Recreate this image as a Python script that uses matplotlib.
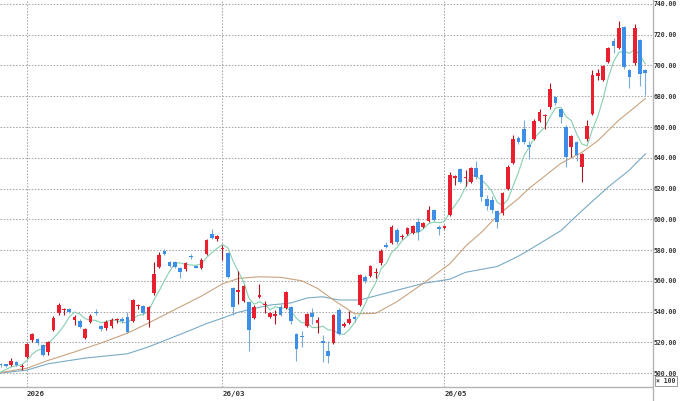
import numpy as np
import pandas as pd
import matplotlib
matplotlib.use("Agg")
import matplotlib.pyplot as plt
from matplotlib.lines import Line2D

# ---- data (prices x100) ----
opens = [505.6, 505.3, 505.2, 507.0, 503.8, 510.6, 521.5, 522.1, 518.2, 513.9,
         528.0, 538.8, 541.0, 541.6, 534.5, 534.0, 522.8, 533.4, 539.9, 530.6,
         529.1, 530.6, 534.2, 535.1, 536.2, 533.8, 543.3, 543.6, 534.5, 551.8,
         568.7, 579.4, 572.4, 572.4, 568.5, 567.4, 575.8, 569.8, 568.1, 577.2,
         590.2, 586.9, 580.5, 577.9, 555.6, 553.0, 546.8, 546.4, 535.6, 549.6,
         544.3, 536.6, 537.1, 543.1, 542.1, 543.1, 525.2, 524.1, 530.8, 538.8,
         532.7, 521.0, 514.3, 519.7, 541.0, 530.8, 532.7, 536.2, 544.2, 562.6,
         563.1, 564.8, 571.4, 583.3, 584.8, 593.0, 588.3, 590.4, 591.3, 598.4,
         594.8, 599.1, 606.0, 595.2, 594.1, 602.8, 627.0, 632.5, 626.6, 624.4,
         633.1, 628.8, 613.2, 612.5, 605.6, 603.9, 619.5, 636.8, 653.0, 658.5,
         648.3, 652.0, 664.1, 667.2, 672.8, 679.3, 671.5, 660.2, 646.8, 650.4,
         633.8, 652.0, 668.3, 693.4, 690.6, 702.1, 715.9, 711.2, 724.8, 697.1,
         701.4, 716.6, 697.1]
highs = [506.5, 506.0, 509.8, 508.0, 506.0, 519.5, 526.0, 523.0, 519.0, 521.0,
         537.0, 545.8, 542.2, 542.5, 537.8, 535.0, 529.5, 538.2, 541.5, 531.5,
         534.5, 536.0, 536.0, 536.5, 540.0, 548.0, 544.6, 544.0, 543.5, 572.0,
         578.5, 580.5, 573.0, 573.0, 569.0, 572.5, 577.5, 570.5, 574.5, 587.0,
         593.5, 590.0, 583.0, 578.5, 556.0, 566.5, 557.0, 547.0, 544.0, 558.0,
         547.0, 539.5, 541.0, 545.0, 553.5, 543.5, 526.0, 527.0, 539.0, 542.0,
         536.5, 524.5, 521.0, 538.5, 542.0, 533.0, 540.5, 538.0, 564.5, 563.5,
         570.5, 568.0, 580.5, 585.0, 596.0, 594.5, 590.5, 595.0, 596.5, 600.5,
         598.5, 608.5, 606.5, 596.0, 596.5, 631.0, 628.5, 633.5, 632.0, 634.0,
         638.0, 629.5, 615.5, 615.0, 606.0, 618.0, 635.0, 654.5, 654.0, 664.5,
         651.0, 665.0, 672.0, 668.5, 688.5, 680.0, 672.0, 661.0, 655.0, 651.0,
         643.0, 664.5, 697.0, 697.5, 700.5, 712.0, 718.0, 729.0, 725.5, 698.0,
         727.0, 717.5, 697.5]
lows = [504.0, 504.0, 504.5, 504.5, 502.0, 510.0, 520.0, 518.5, 511.0, 512.0,
        527.0, 538.0, 537.5, 539.0, 531.0, 529.0, 522.0, 532.5, 538.0, 527.0,
        528.0, 529.5, 532.5, 532.5, 526.0, 533.0, 541.5, 538.0, 530.0, 551.0,
        568.0, 576.5, 569.0, 568.0, 562.0, 566.5, 574.0, 568.0, 567.5, 576.5,
        587.0, 586.0, 573.5, 562.0, 537.5, 545.0, 546.0, 514.5, 535.0, 549.0,
        539.0, 536.0, 532.0, 537.0, 541.5, 532.0, 507.5, 517.0, 530.0, 532.0,
        526.0, 507.0, 506.5, 519.0, 524.5, 530.0, 532.0, 533.0, 543.5, 558.5,
        562.5, 562.0, 570.5, 581.0, 584.0, 584.0, 587.0, 589.5, 590.5, 586.5,
        594.0, 598.5, 599.0, 590.0, 593.5, 602.0, 622.0, 623.5, 621.5, 623.5,
        626.5, 612.0, 606.0, 604.0, 594.5, 603.0, 619.0, 636.0, 649.0, 649.0,
        639.0, 651.5, 663.5, 659.0, 672.0, 674.5, 662.5, 634.0, 640.5, 638.0,
        624.5, 651.0, 667.5, 690.5, 690.0, 701.5, 708.0, 710.5, 698.0, 685.5,
        700.5, 686.5, 681.0]
closes = [505.0, 504.8, 507.8, 505.2, 504.2, 518.9, 525.4, 519.7, 511.7, 520.2,
          536.0, 544.4, 541.6, 539.9, 536.4, 530.1, 528.6, 537.3, 538.8, 528.8,
          533.4, 534.5, 534.7, 533.8, 526.9, 547.5, 543.8, 538.8, 543.0, 564.2,
          576.9, 577.2, 569.6, 568.7, 565.9, 571.7, 575.4, 568.6, 573.5, 586.2,
          588.0, 589.3, 581.1, 562.6, 542.9, 553.6, 556.4, 527.8, 543.1, 550.7,
          544.9, 538.8, 538.2, 537.7, 552.9, 534.0, 515.4, 523.4, 538.2, 536.6,
          534.5, 519.5, 511.1, 537.7, 525.4, 531.9, 534.9, 534.9, 563.7, 559.8,
          569.8, 565.9, 579.5, 581.8, 595.2, 585.0, 589.1, 594.1, 595.8, 591.9,
          597.8, 606.0, 599.5, 593.5, 595.8, 628.8, 627.7, 624.4, 627.7, 633.5,
          627.3, 614.7, 608.6, 606.0, 598.4, 617.3, 634.2, 652.2, 650.4, 650.4,
          647.2, 663.9, 670.0, 667.8, 684.5, 675.4, 666.3, 640.3, 654.1, 641.8,
          642.2, 660.6, 693.8, 694.9, 699.7, 711.2, 712.9, 724.2, 698.8, 692.3,
          724.2, 694.5, 695.3]

# first four points of the short average (earlier closes are off-chart)
ma5_head = [500.5, 502.3, 503.9, 504.8]

# medium and long moving averages
ma25_idx = [0, 5, 9, 14, 19, 24, 28, 33, 38, 42, 45, 49, 53, 57, 60, 63, 67, 71,
            75, 80, 85, 88, 91, 94, 98, 100, 106, 110, 113, 117, 119, 122]
ma25_val = [500.3, 503.1, 508.2, 513.7, 519.5, 525.9, 532.5, 541.3, 550.0, 558.0,
            561.5, 562.6, 562.2, 560.0, 555.0, 547.5, 538.5, 538.8, 546.4, 558.3,
            571.0, 582.5, 591.5, 602.3, 613.5, 620.0, 636.3, 643.5, 651.0, 664.5,
            670.0, 678.5]
ma75_idx = [0, 5, 9, 16, 24, 28, 35, 39, 42, 45, 48, 51, 55, 58, 61, 64, 68, 74,
            80, 85, 88, 94, 98, 100, 106, 110, 115, 119, 122]
ma75_val = [500.0, 501.9, 506.0, 509.7, 512.5, 517.0, 526.5, 532.2, 535.7, 539.5,
            542.0, 544.2, 545.6, 548.8, 549.6, 547.5, 547.5, 552.9, 558.3, 561.0,
            565.5, 569.3, 576.0, 580.0, 592.5, 605.5, 621.0, 632.0, 642.5]

date_tick_idx = [5, 42, 84]
date_tick_labels = ["2026", "26/03", "26/05"]
y_ticks = list(range(500, 741, 20))

# ---- style ----
UP = "#e8202f"
DOWN = "#3d8ee6"
UP_WICK = "#a8141f"
DOWN_WICK = "#7aaad6"
MA5_C = "#86d0ae"
MA25_C = "#c9a37f"
MA75_C = "#78aac4"
GRID = "#a8a8a8"
AXIS = "#b4b4b4"

W, H = 680, 401
fig = plt.figure(figsize=(W / 100, H / 100), dpi=100)
ax = fig.add_axes([0, 14 / H, 652 / W, 387 / H])

o = np.array(opens)
h = np.array(highs)
l = np.array(lows)
c = np.array(closes)
n = len(o)
x = np.arange(n)
up = c >= o

ma5 = pd.Series(c).rolling(5).mean().to_numpy()
ma5[:4] = ma5_head

ax.set_xlim(-0.1, 123.27)
ax.set_ylim(490.9, 742.6)

ax.set_yticks(y_ticks)
ax.set_xticks(date_tick_idx)
ax.grid(True, color=GRID, linestyle=(0, (1.5, 1.5)), linewidth=0.75)
ax.set_axisbelow(True)

ax.plot(ma75_idx, ma75_val, color=MA75_C, lw=0.8, zorder=2)
ax.plot(ma25_idx, ma25_val, color=MA25_C, lw=0.8, zorder=2)
ax.plot(x, ma5, color=MA5_C, lw=0.8, zorder=2)

wick_cols = np.where(up, UP_WICK, DOWN_WICK)
body_cols = np.where(up, UP, DOWN)
ax.vlines(x, l, h, colors=wick_cols, lw=0.8, zorder=3)
heights = np.maximum(np.abs(c - o), 0.9)
bottoms = np.minimum(o, c)
ax.bar(x, heights, bottom=bottoms, width=0.7, color=body_cols, linewidth=0, zorder=4)

for s in ["top", "left", "right"]:
    ax.spines[s].set_visible(False)
ax.spines["bottom"].set_color(AXIS)
ax.spines["bottom"].set_linewidth(1.0)

ax.yaxis.tick_right()
ax.tick_params(axis="both", length=0)
ax.tick_params(axis="y", pad=1.5)
ax.tick_params(axis="x", pad=3)
ax.set_yticklabels([f"{v:.2f}" for v in y_ticks], fontsize=4.7,
                   family="DejaVu Sans Mono", fontweight="bold", color="#333333")
ax.set_xticklabels(date_tick_labels, fontsize=5.3, family="DejaVu Sans Mono",
                   fontweight="bold", color="#333333", ha="left")

# right axis line spanning the full height
fig.add_artist(Line2D([652.5 / W, 652.5 / W], [0, 1], color=AXIS, lw=1.0))

fig.text(666 / W, (H - 381) / H, "\u00d7 100", fontsize=4.7, family="DejaVu Sans Mono",
         fontweight="bold", color="#333333", ha="center", va="center",
         bbox=dict(boxstyle="square,pad=0.25", fc="white", ec="#999999", lw=0.7))

fig.savefig("out.png", dpi=100)
